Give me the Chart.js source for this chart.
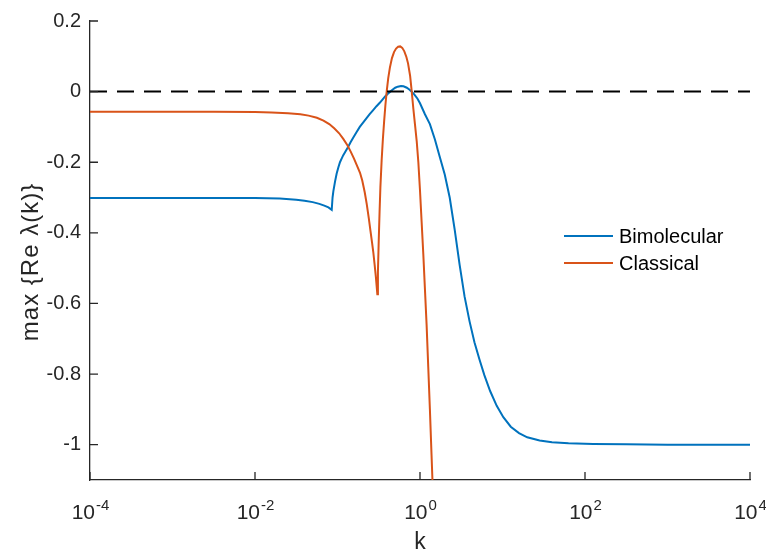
<!DOCTYPE html>
<html>
<head>
<meta charset="utf-8">
<script src="https://cdn.jsdelivr.net/npm/chart.js@4/dist/chart.umd.min.js"></script>
<style>
  html, body { margin: 0; padding: 0; background: #fff; }
  #wrap { width: 766px; height: 554px; }
</style>
</head>
<body>
<div id="wrap"><canvas id="c" width="766" height="554"></canvas></div>
<script>
// log10(k) positions and max Re lambda values
const BIMOL_LOGK = [-4, -3, -2.5, -2, -1.7, -1.5, -1.4, -1.3, -1.22, -1.16, -1.11, -1.07,
  -1.06, -1.05, -1.03, -1.01, -0.99, -0.97, -0.95, -0.93, -0.9, -0.87, -0.84, -0.81, -0.77, -0.73, -0.69, -0.65, -0.61, -0.57, -0.53, -0.485, -0.45, -0.42, -0.39, -0.36, -0.33, -0.3, -0.27, -0.23, -0.2, -0.16, -0.13, -0.1, -0.07, -0.03,
  0.0, 0.06, 0.12, 0.18, 0.24, 0.3, 0.36, 0.42, 0.48, 0.54, 0.6, 0.66, 0.72, 0.78, 0.85, 0.93, 1.01, 1.1, 1.2, 1.3, 1.45, 1.6, 1.8, 2.1, 2.5, 3, 4];
const BIMOL_VAL = [-0.301, -0.301, -0.301, -0.301, -0.303, -0.306, -0.309, -0.313, -0.318, -0.323, -0.328, -0.335,
  -0.3, -0.282, -0.255, -0.232, -0.215, -0.2, -0.19, -0.18, -0.168, -0.156, -0.143, -0.131, -0.115, -0.1, -0.088, -0.076, -0.064, -0.053, -0.042, -0.031, -0.021, -0.013, -0.006, 0.0, 0.006, 0.011, 0.014, 0.016, 0.015, 0.011, 0.006, 0.0, -0.008, -0.02,
  -0.033, -0.064, -0.092, -0.135, -0.185, -0.235, -0.3, -0.39, -0.49, -0.58, -0.65, -0.71, -0.758, -0.803, -0.848, -0.89, -0.922, -0.949, -0.967, -0.979, -0.988, -0.993, -0.996, -0.998, -0.999, -1.0, -1.0];

const CLASS_LOGK = [-4, -3, -2.5, -2, -1.8, -1.6, -1.45, -1.35, -1.25, -1.17, -1.1, -1.04, -0.98, -0.93, -0.88, -0.84, -0.8, -0.76, -0.727, -0.7, -0.67, -0.646, -0.62, -0.6, -0.58, -0.566, -0.55, -0.535, -0.517,
  -0.51, -0.5, -0.49, -0.48, -0.465, -0.45, -0.435, -0.42, -0.404, -0.385, -0.365, -0.34, -0.315, -0.29, -0.265, -0.24, -0.215, -0.19, -0.165, -0.145, -0.12, -0.1, -0.08, -0.06, -0.04, -0.02,
  0.0, 0.02, 0.04, 0.06, 0.08, 0.1, 0.12, 0.14, 0.16];
const CLASS_VAL = [-0.057, -0.057, -0.057, -0.058, -0.059, -0.061, -0.064, -0.068, -0.074, -0.082, -0.092, -0.104, -0.118, -0.134, -0.152, -0.17, -0.19, -0.212, -0.23, -0.252, -0.285, -0.318, -0.36, -0.395, -0.43, -0.455, -0.49, -0.525, -0.574,
  -0.51, -0.42, -0.34, -0.27, -0.195, -0.135, -0.085, -0.04, 0.0, 0.038, 0.068, 0.095, 0.112, 0.122, 0.127, 0.128, 0.124, 0.114, 0.098, 0.08, 0.045, 0.0, -0.05, -0.095, -0.14, -0.2,
  -0.28, -0.37, -0.46, -0.56, -0.66, -0.78, -0.9, -1.03, -1.16];

const ZERO_LINE_K = [1e-4, 1e4];
const X_TICKS = [1e-4, 1e-2, 1, 1e2, 1e4];
const Y_TICKS = [-1, -0.8, -0.6, -0.4, -0.2, 0, 0.2];
const LABELS = ['Bimolecular', 'Classical'];
const Y_TITLE = 'max {Re λ(k)}';

const BLUE = '#0072BD';
const ORANGE = '#D95319';
const AXIS = '#262626';
const FONT = '"Liberation Sans", Arial, Helvetica, sans-serif';

const toPts = (logk, vals) => logk.map((e, i) => ({ x: Math.pow(10, e), y: vals[i] }));

const matlabAxes = {
  id: 'matlabAxes',
  afterDraw(chart) {
    const { ctx, chartArea: a, scales: { x, y } } = chart;
    ctx.save();
    // inward tick marks
    ctx.strokeStyle = AXIS;
    ctx.lineWidth = 1.3;
    ctx.beginPath();
    X_TICKS.forEach(v => {
      const px = x.getPixelForValue(v);
      ctx.moveTo(px, a.bottom);
      ctx.lineTo(px, a.bottom - 8);
    });
    Y_TICKS.forEach(v => {
      const py = y.getPixelForValue(v);
      ctx.moveTo(a.left, py);
      ctx.lineTo(a.left + 8, py);
    });
    ctx.stroke();

    // x tick labels as 10 with superscript exponent
    ctx.fillStyle = AXIS;
    ctx.textBaseline = 'alphabetic';
    ctx.textAlign = 'left';
    X_TICKS.forEach(v => {
      const px = x.getPixelForValue(v);
      const exp = String(Math.round(Math.log10(v)));
      ctx.font = '21px ' + FONT;
      const wb = ctx.measureText('10').width;
      ctx.font = '15px ' + FONT;
      const ws = ctx.measureText(exp).width;
      const x0 = px - (wb + ws) / 2;
      ctx.font = '21px ' + FONT;
      ctx.fillText('10', x0, 519);
      ctx.font = '15px ' + FONT;
      ctx.fillText(exp, x0 + wb + 1, 510);
    });

    // y axis title
    ctx.save();
    ctx.translate(31, 262);
    ctx.rotate(-Math.PI / 2);
    ctx.font = '24px ' + FONT;
    ctx.textAlign = 'center';
    ctx.textBaseline = 'middle';
    ctx.letterSpacing = '1px';
    ctx.fillText(Y_TITLE, 0, 0);
    ctx.restore();

    // legend inside the plot, no box
    const rows = [
      { label: LABELS[0], color: BLUE, y: 236 },
      { label: LABELS[1], color: ORANGE, y: 263 }
    ];
    ctx.font = '20px ' + FONT;
    ctx.textBaseline = 'middle';
    ctx.textAlign = 'left';
    rows.forEach(r => {
      ctx.strokeStyle = r.color;
      ctx.lineWidth = 2;
      ctx.beginPath();
      ctx.moveTo(564, r.y);
      ctx.lineTo(613, r.y);
      ctx.stroke();
      ctx.fillStyle = '#000';
      ctx.fillText(r.label, 619, r.y + 1);
    });
    ctx.restore();
  }
};

new Chart(document.getElementById('c'), {
  type: 'line',
  data: {
    datasets: [
      {
        label: 'zero',
        data: ZERO_LINE_K.map(k => ({ x: k, y: 0 })),
        borderColor: '#000', borderWidth: 2, borderDash: [17, 10],
        pointRadius: 0, order: 0
      },
      {
        label: LABELS[1],
        data: toPts(CLASS_LOGK, CLASS_VAL),
        borderColor: ORANGE, borderWidth: 2,
        pointRadius: 0, tension: 0, order: 1
      },
      {
        label: LABELS[0],
        data: toPts(BIMOL_LOGK, BIMOL_VAL),
        borderColor: BLUE, borderWidth: 2,
        pointRadius: 0, tension: 0, order: 2
      }
    ]
  },
  options: {
    responsive: false,
    animation: false,
    devicePixelRatio: 1,
    layout: { padding: { left: 0, top: 19, right: 16, bottom: 0 } },
    plugins: { legend: { display: false }, tooltip: { enabled: false } },
    scales: {
      x: {
        type: 'logarithmic',
        min: 1e-4, max: 1e4,
        afterBuildTicks: s => { s.ticks = X_TICKS.map(v => ({ value: v })); },
        afterFit: s => { s.height = 74; },
        grid: { display: false, drawTicks: false },
        border: { display: true, color: AXIS, width: 1.3 },
        ticks: { display: false },
        title: {
          display: true, text: 'k', color: AXIS,
          font: { family: FONT, size: 23, lineHeight: 1 },
          padding: { top: 0, bottom: 0 }
        }
      },
      y: {
        type: 'linear',
        min: -1.1, max: 0.2,
        afterBuildTicks: s => { s.ticks = Y_TICKS.map(v => ({ value: v })); },
        afterFit: s => { s.width = 90; },
        grid: { display: false, drawTicks: false },
        border: { display: true, color: AXIS, width: 1.3 },
        ticks: {
          color: AXIS, padding: 9,
          font: { family: FONT, size: 20 },
          callback: v => String(v)
        },
        title: { display: false }
      }
    }
  },
  plugins: [matlabAxes]
});
</script>
</body>
</html>
